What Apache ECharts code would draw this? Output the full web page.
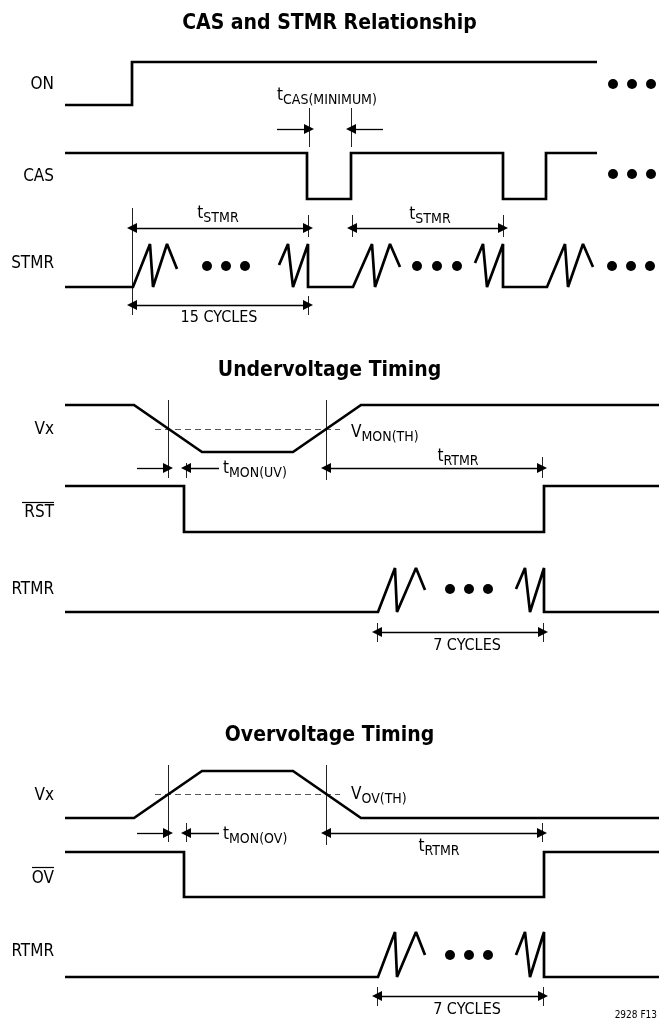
<!DOCTYPE html>
<html>
<head>
<meta charset="utf-8">
<script src="https://cdn.jsdelivr.net/npm/echarts@6/dist/echarts.min.js"></script>
<style>
html, body { margin: 0; padding: 0; background: #fff; }
#chart { width: 659px; height: 1023px; }
</style>
</head>
<body>
<div id="chart"></div>
<script>
const FONT = '"Liberation Sans Narrow", "DejaVu Sans Condensed", "Arial Narrow", sans-serif'

// section titles
const titles = ['CAS and STMR Relationship', 'Undervoltage Timing', 'Overvoltage Timing']

// waveforms, [time, level] (level axis points down)
const onWave = [[65, 105], [132, 105], [132, 62], [597, 62]]
const casWave = [[65, 153], [307, 153], [307, 199], [351, 199], [351, 153], [503, 153], [503, 199], [546, 199], [546, 153], [597, 153]]
const stmrA = [[65, 287], [133, 287], [150, 244], [153, 287], [167, 244], [177, 269]]
const stmrB = [[279, 265], [288, 244], [293, 287], [308, 244], [308, 287], [353, 287], [372, 244], [375, 287], [390, 244], [400, 267]]
const stmrC = [[475, 263], [483, 244], [487, 287], [503, 244], [503, 287], [547, 287], [565, 244], [568, 287], [583, 244], [593, 267]]

const vxUV = [[65, 405], [134, 405], [202, 452], [293, 452], [361, 405], [659, 405]]
const rstWave = [[65, 486], [184, 486], [184, 532], [544, 532], [544, 486], [659, 486]]
const rtmrUV_A = [[65, 612], [378, 612], [395, 568], [397, 612], [416, 568], [425, 590]]
const rtmrUV_B = [[516, 589], [525, 568], [530, 612], [544, 568], [544, 612], [659, 612]]

const vxOV = [[65, 818], [134, 818], [202, 771], [293, 771], [361, 818], [659, 818]]
const ovWave = [[65, 852], [184, 852], [184, 897], [544, 897], [544, 852], [659, 852]]
const rtmrOV_A = [[65, 977], [378, 977], [395, 932], [397, 977], [416, 932], [425, 955]]
const rtmrOV_B = [[516, 955], [525, 932], [530, 977], [544, 932], [544, 977], [659, 977]]

// "..." continuation dots
const dots = [
  [613, 84], [632, 84], [651, 84],
  [613, 174], [632, 174], [651, 174],
  [207, 266], [226, 266], [245, 266],
  [417, 266], [437, 266], [457, 266],
  [612, 266], [631, 266], [650, 266],
  [450, 589], [469, 589], [488, 589],
  [450, 955], [469, 955], [488, 955]
]

// threshold levels (dashed)
const thresholds = [
  [[155, 429], [340, 429]],
  [[155, 794], [340, 794]]
]

// extension (witness) lines
const witness = [
  [[309, 108], [309, 147]], [[351, 108], [351, 147]],
  [[132, 208], [132, 315]], [[308, 215], [308, 237]], [[308, 296], [308, 315]],
  [[352, 215], [352, 237]], [[503, 215], [503, 237]],
  [[168, 400], [168, 478]], [[326, 400], [326, 480]], [[186, 463], [186, 478]], [[542, 457], [542, 478]],
  [[377, 623], [377, 642]], [[543, 623], [543, 642]],
  [[168, 765], [168, 842]], [[326, 765], [326, 845]], [[186, 823], [186, 842]], [[542, 823], [542, 842]],
  [[377, 987], [377, 1006]], [[543, 987], [543, 1006]]
]

// single-headed arrows, tail -> tip
const arrows1 = [
  [[277, 129], [309, 129]], [[383, 129], [351, 129]],
  [[137, 468], [168, 468]], [[219, 468], [186, 468]],
  [[137, 833], [168, 833]], [[219, 833], [186, 833]]
]
// double-headed spans
const arrows2 = [
  [[132, 228], [308, 228]], [[352, 228], [503, 228]],
  [[132, 305], [308, 305]],
  [[326, 468], [542, 468]], [[377, 632], [543, 632]],
  [[326, 833], [542, 833]], [[377, 996], [543, 996]]
]

// signal names on the left
const signalNames = ['ON', 'CAS', 'STMR', 'Vx', 'RST', 'RTMR', 'Vx', 'OV', 'RTMR']
const signalRows = [85, 177, 264, 430, 513, 590, 796, 879, 952]
const overlines = [
  [[22, 502], [54, 502]],
  [[32, 867], [54, 867]]
]

// annotations: [text, x, y, align]
const notes = [
  ['{t|t}{s|CAS(MINIMUM)}', 277, 96, 'left'],
  ['{t|t}{s|STMR}', 218, 214, 'center'],
  ['{t|t}{s|STMR}', 430, 215, 'center'],
  ['{n|15 CYCLES}', 219, 318, 'center'],
  ['{t|V}{s|MON(TH)}', 351, 433, 'left'],
  ['{t|t}{s|MON(UV)}', 223, 469, 'left'],
  ['{t|t}{s|RTMR}', 458, 457, 'center'],
  ['{n|7 CYCLES}', 467, 646, 'center'],
  ['{t|V}{s|OV(TH)}', 351, 795, 'left'],
  ['{t|t}{s|MON(OV)}', 223, 835, 'left'],
  ['{t|t}{s|RTMR}', 439, 847, 'center'],
  ['{n|7 CYCLES}', 467, 1010, 'center'],
  ['{f|2928 F13}', 657, 1015, 'right']
]

const chart = echarts.init(document.getElementById('chart'))

function wave (data) {
  return {
    type: 'line',
    data: data,
    showSymbol: false,
    silent: true,
    lineStyle: { color: '#000', width: 2.7, opacity: 1, join: 'miter', miterLimit: 2 },
    z: 3
  }
}

function segs (list, extra) {
  return Object.assign({
    type: 'lines',
    coordinateSystem: 'cartesian2d',
    silent: true,
    data: list.map(c => ({ coords: c }))
  }, extra)
}

const richStyle = {
  t: { fontSize: 17, fontFamily: FONT, color: '#000' },
  s: { fontSize: 14, fontFamily: FONT, color: '#000', padding: [9, 0, 0, 0] },
  n: { fontSize: 16, fontFamily: FONT, color: '#000' },
  f: { fontSize: 10, fontFamily: FONT, color: '#000' }
}

const option = {
  animation: false,
  backgroundColor: '#fff',
  title: titles.map((t, i) => ({
    text: t,
    left: 'center',
    top: [8, 355, 720][i],
    textStyle: { fontSize: 21, fontWeight: 'bold', fontFamily: FONT, color: '#000' }
  })),
  grid: { left: 0, right: 0, top: 0, bottom: 0 },
  xAxis: { type: 'value', min: 0, max: 659, show: false },
  yAxis: { type: 'value', min: 0, max: 1023, inverse: true, show: false },
  series: [
    wave(onWave), wave(casWave), wave(stmrA), wave(stmrB), wave(stmrC),
    wave(vxUV), wave(rstWave), wave(rtmrUV_A), wave(rtmrUV_B),
    wave(vxOV), wave(ovWave), wave(rtmrOV_A), wave(rtmrOV_B),
    segs(thresholds, { lineStyle: { color: '#555', width: 1, opacity: 1, type: [6, 4] } }),
    segs(witness, { lineStyle: { color: '#222', width: 1, opacity: 1 } }),
    segs(overlines, { lineStyle: { color: '#000', width: 1.2, opacity: 1 } }),
    segs(arrows1, { symbol: ['none', 'triangle'], symbolSize: 10, lineStyle: { color: '#000', width: 1.3, opacity: 1 } }),
    segs(arrows2, { symbol: ['triangle', 'triangle'], symbolSize: 10, lineStyle: { color: '#000', width: 1.3, opacity: 1 } }),
    {
      type: 'scatter',
      data: dots,
      symbolSize: 10,
      silent: true,
      itemStyle: { color: '#000', opacity: 1 }
    },
    {
      type: 'scatter',
      symbolSize: 0,
      silent: true,
      itemStyle: { color: '#000', opacity: 1 },
      data: signalNames.map((n, i) => ({ value: [54, signalRows[i]], label: { formatter: n } })),
      label: {
        show: true,
        position: [0, 0],
        align: 'right',
        verticalAlign: 'middle',
        fontSize: 17,
        fontFamily: FONT,
        color: '#000'
      }
    },
    {
      type: 'scatter',
      symbolSize: 0,
      silent: true,
      itemStyle: { color: '#000', opacity: 1 },
      data: notes.map(n => ({ value: [n[1], n[2]], label: { formatter: n[0], align: n[3] } })),
      label: {
        show: true,
        position: [0, 0],
        verticalAlign: 'middle',
        color: '#000',
        rich: richStyle
      }
    }
  ]
}

chart.setOption(option)
</script>
</body>
</html>
